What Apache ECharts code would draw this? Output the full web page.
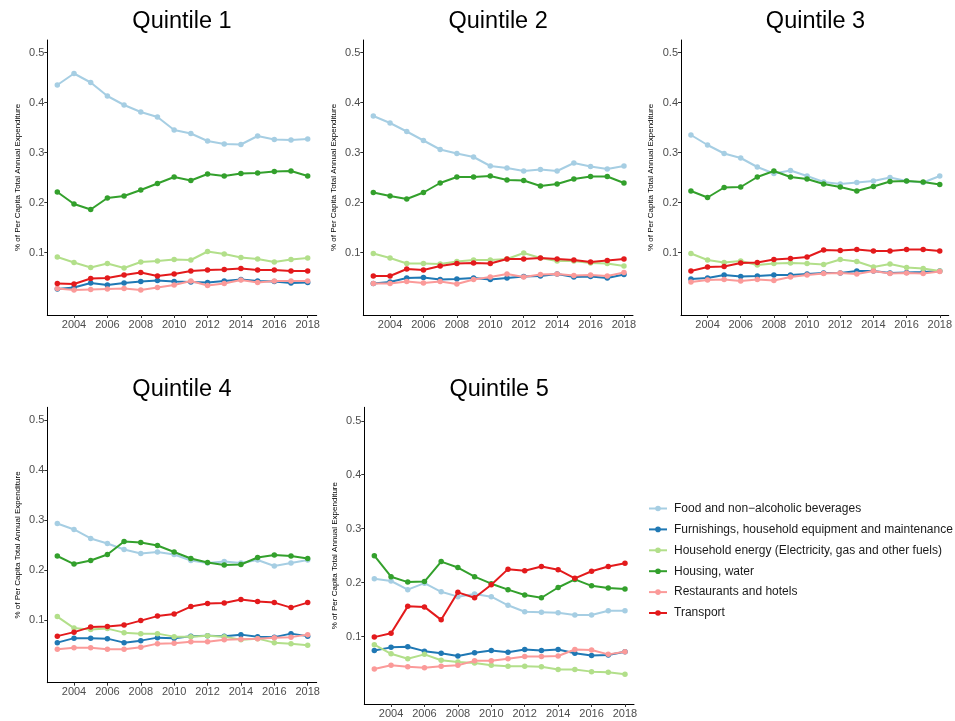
<!DOCTYPE html>
<html>
<head>
<meta charset="utf-8">
<script src="https://cdn.jsdelivr.net/npm/echarts@6/dist/echarts.min.js"></script>
<style>
  html, body { margin: 0; padding: 0; background: #ffffff; }
  #chart { width: 955px; height: 721px; }
</style>
</head>
<body>
<div id="chart"></div>
<script>
// Expenditure shares by income quintile, 2003-2018
const years = [2003, 2004, 2005, 2006, 2007, 2008, 2009, 2010, 2011, 2012, 2013, 2014, 2015, 2016, 2017, 2018];
const xTicks = [2004, 2006, 2008, 2010, 2012, 2014, 2016, 2018];
const yTicks = [0.1, 0.2, 0.3, 0.4, 0.5];
const quintiles = ['Quintile 1', 'Quintile 2', 'Quintile 3', 'Quintile 4', 'Quintile 5'];
const categories = [
  'Food and non\u2212alcoholic beverages',
  'Furnishings, household equipment and maintenance',
  'Household energy (Electricity, gas and other fuels)',
  'Housing, water',
  'Restaurants and hotels',
  'Transport'
];
const palette = ['#A6CEE3', '#1F78B4', '#B2DF8A', '#33A02C', '#FB9A99', '#E31A1C'];

// one row per quintile (1..5), one value per year
const food = [
  [0.435, 0.458, 0.440, 0.413, 0.395, 0.381, 0.371, 0.345, 0.338, 0.323, 0.317, 0.316, 0.333, 0.326, 0.325, 0.327],
  [0.373, 0.359, 0.342, 0.324, 0.306, 0.298, 0.291, 0.273, 0.269, 0.263, 0.266, 0.263, 0.279, 0.272, 0.267, 0.273],
  [0.335, 0.315, 0.298, 0.289, 0.271, 0.258, 0.264, 0.253, 0.241, 0.237, 0.240, 0.243, 0.250, 0.243, 0.240, 0.253],
  [0.293, 0.281, 0.263, 0.253, 0.241, 0.233, 0.236, 0.231, 0.219, 0.214, 0.217, 0.214, 0.220, 0.208, 0.214, 0.220],
  [0.207, 0.203, 0.187, 0.199, 0.183, 0.174, 0.179, 0.174, 0.158, 0.146, 0.145, 0.144, 0.140, 0.140, 0.148, 0.148]
];
const furnishings = [
  [0.027, 0.030, 0.039, 0.035, 0.039, 0.042, 0.044, 0.042, 0.041, 0.040, 0.043, 0.046, 0.043, 0.042, 0.039, 0.040],
  [0.038, 0.041, 0.049, 0.050, 0.046, 0.047, 0.049, 0.046, 0.049, 0.052, 0.053, 0.057, 0.051, 0.052, 0.049, 0.056],
  [0.047, 0.049, 0.055, 0.052, 0.053, 0.055, 0.055, 0.057, 0.059, 0.059, 0.063, 0.063, 0.059, 0.060, 0.061, 0.063],
  [0.055, 0.064, 0.064, 0.063, 0.055, 0.059, 0.065, 0.064, 0.068, 0.069, 0.068, 0.071, 0.067, 0.066, 0.073, 0.068],
  [0.074, 0.080, 0.081, 0.073, 0.069, 0.064, 0.070, 0.074, 0.071, 0.076, 0.074, 0.076, 0.069, 0.065, 0.066, 0.072]
];
const energy = [
  [0.091, 0.080, 0.070, 0.078, 0.069, 0.081, 0.083, 0.086, 0.085, 0.102, 0.097, 0.090, 0.087, 0.081, 0.086, 0.089],
  [0.098, 0.089, 0.078, 0.078, 0.077, 0.082, 0.085, 0.085, 0.087, 0.099, 0.089, 0.083, 0.083, 0.079, 0.078, 0.073],
  [0.098, 0.085, 0.080, 0.083, 0.075, 0.078, 0.079, 0.078, 0.076, 0.086, 0.082, 0.071, 0.077, 0.070, 0.068, 0.063],
  [0.107, 0.084, 0.081, 0.083, 0.075, 0.073, 0.073, 0.067, 0.067, 0.069, 0.067, 0.061, 0.063, 0.055, 0.053, 0.050],
  [0.085, 0.068, 0.059, 0.067, 0.056, 0.053, 0.051, 0.047, 0.045, 0.045, 0.044, 0.039, 0.039, 0.035, 0.034, 0.030]
];
const housing = [
  [0.221, 0.197, 0.186, 0.209, 0.213, 0.225, 0.238, 0.251, 0.244, 0.257, 0.253, 0.258, 0.259, 0.262, 0.263, 0.253],
  [0.220, 0.213, 0.207, 0.220, 0.239, 0.251, 0.251, 0.253, 0.245, 0.244, 0.233, 0.237, 0.247, 0.252, 0.252, 0.239],
  [0.223, 0.210, 0.230, 0.231, 0.251, 0.263, 0.251, 0.247, 0.237, 0.231, 0.223, 0.232, 0.242, 0.243, 0.241, 0.236],
  [0.228, 0.212, 0.219, 0.231, 0.257, 0.255, 0.249, 0.236, 0.223, 0.215, 0.210, 0.211, 0.225, 0.230, 0.228, 0.223],
  [0.250, 0.211, 0.201, 0.202, 0.239, 0.228, 0.211, 0.198, 0.187, 0.177, 0.172, 0.191, 0.206, 0.194, 0.190, 0.188]
];
const restaurants = [
  [0.028, 0.025, 0.026, 0.027, 0.028, 0.025, 0.030, 0.035, 0.043, 0.034, 0.038, 0.045, 0.040, 0.043, 0.043, 0.043],
  [0.038, 0.038, 0.042, 0.039, 0.042, 0.037, 0.046, 0.051, 0.057, 0.051, 0.056, 0.057, 0.054, 0.055, 0.053, 0.060],
  [0.041, 0.045, 0.046, 0.043, 0.046, 0.044, 0.051, 0.055, 0.058, 0.059, 0.057, 0.063, 0.058, 0.059, 0.058, 0.062],
  [0.042, 0.045, 0.045, 0.042, 0.042, 0.046, 0.053, 0.054, 0.057, 0.057, 0.061, 0.062, 0.063, 0.065, 0.066, 0.071],
  [0.040, 0.047, 0.044, 0.042, 0.045, 0.047, 0.055, 0.055, 0.059, 0.063, 0.063, 0.064, 0.076, 0.075, 0.067, 0.072]
];
const transport = [
  [0.038, 0.037, 0.048, 0.049, 0.055, 0.060, 0.053, 0.057, 0.063, 0.065, 0.066, 0.068, 0.065, 0.065, 0.063, 0.063],
  [0.053, 0.053, 0.067, 0.065, 0.073, 0.078, 0.079, 0.078, 0.087, 0.087, 0.089, 0.087, 0.085, 0.081, 0.084, 0.087],
  [0.063, 0.071, 0.072, 0.079, 0.080, 0.086, 0.088, 0.091, 0.105, 0.104, 0.106, 0.103, 0.103, 0.106, 0.106, 0.103],
  [0.068, 0.076, 0.086, 0.087, 0.090, 0.099, 0.108, 0.112, 0.127, 0.133, 0.134, 0.141, 0.137, 0.135, 0.125, 0.135],
  [0.099, 0.106, 0.156, 0.155, 0.131, 0.182, 0.172, 0.196, 0.225, 0.222, 0.230, 0.224, 0.208, 0.221, 0.230, 0.236]
];
const seriesData = [food, furnishings, energy, housing, restaurants, transport];

// plot-area boxes for the five facets (px)
const panels = [
  { left: 47.3,  top: 40,    width: 269.4, height: 275 },
  { left: 363.3, top: 40,    width: 269.7, height: 275 },
  { left: 681,   top: 40,    width: 269,   height: 275 },
  { left: 47.3,  top: 407.3, width: 269.4, height: 275.4 },
  { left: 364.3, top: 407.3, width: 269.7, height: 296.7 }
];

const FONT = '"Liberation Sans", Arial, Helvetica, sans-serif';

const grid = [], xAxis = [], yAxis = [], series = [], title = [];
panels.forEach((p, i) => {
  grid.push({ left: p.left, top: p.top, width: p.width, height: p.height, containLabel: false });
  // facet title centred over the plot area (title box has 5px padding)
  title.push({
    text: quintiles[i],
    left: p.left + p.width / 2 - 5,
    top: p.top - 35,
    textAlign: 'center',
    textStyle: { fontFamily: FONT, fontSize: 23.5, fontWeight: 'normal', color: '#000000' }
  });
  xAxis.push({
    type: 'value', gridIndex: i, min: 2002.4, max: 2018.54,
    axisLine: { show: true, onZero: false, lineStyle: { color: '#000000', width: 1 } },
    axisTick: { show: true, length: 3, lineStyle: { color: '#333333' }, customValues: xTicks },
    axisLabel: { show: true, color: '#4D4D4D', fontSize: 11, fontFamily: FONT, margin: 4, customValues: xTicks,
                 formatter: v => String(v) },
    splitLine: { show: false }
  });
  yAxis.push({
    type: 'value', gridIndex: i, min: -0.025, max: 0.525,
    name: '% of Per Capita Total Annual Expenditure',
    nameLocation: 'middle', nameGap: 26, nameRotate: 90,
    nameTextStyle: { fontFamily: FONT, fontSize: 8, color: '#000000' },
    axisLine: { show: true, onZero: false, lineStyle: { color: '#000000', width: 1 } },
    axisTick: { show: true, length: 3, lineStyle: { color: '#333333' }, customValues: yTicks },
    axisLabel: { show: true, color: '#4D4D4D', fontSize: 11, fontFamily: FONT, margin: 3, customValues: yTicks,
                 formatter: v => v.toFixed(1) },
    splitLine: { show: false }
  });
  categories.forEach((name, k) => {
    series.push({
      name: name,
      type: 'line',
      xAxisIndex: i, yAxisIndex: i,
      data: years.map((y, j) => [y, seriesData[k][i][j]]),
      symbol: 'circle', symbolSize: 5.5,
      showSymbol: true,
      lineStyle: { width: 2, color: palette[k] },
      itemStyle: { color: palette[k] },
      emphasis: { disabled: true },
      animation: false,
      z: 2 + k
    });
  });
});

const chart = echarts.init(document.getElementById('chart'), null, { renderer: 'canvas' });
chart.setOption({
  backgroundColor: '#ffffff',
  animation: false,
  color: palette,
  title: title,
  grid: grid,
  xAxis: xAxis,
  yAxis: yAxis,
  legend: {
    data: categories,
    orient: 'vertical',
    left: 643, top: 497.5,
    itemWidth: 18, itemHeight: 7, itemGap: 8.9,
    itemStyle: { borderWidth: 0 },
    textStyle: { fontFamily: FONT, fontSize: 12, color: '#1A1A1A', padding: [0, 0, 0, 2] }
  },
  series: series
});
</script>
</body>
</html>
